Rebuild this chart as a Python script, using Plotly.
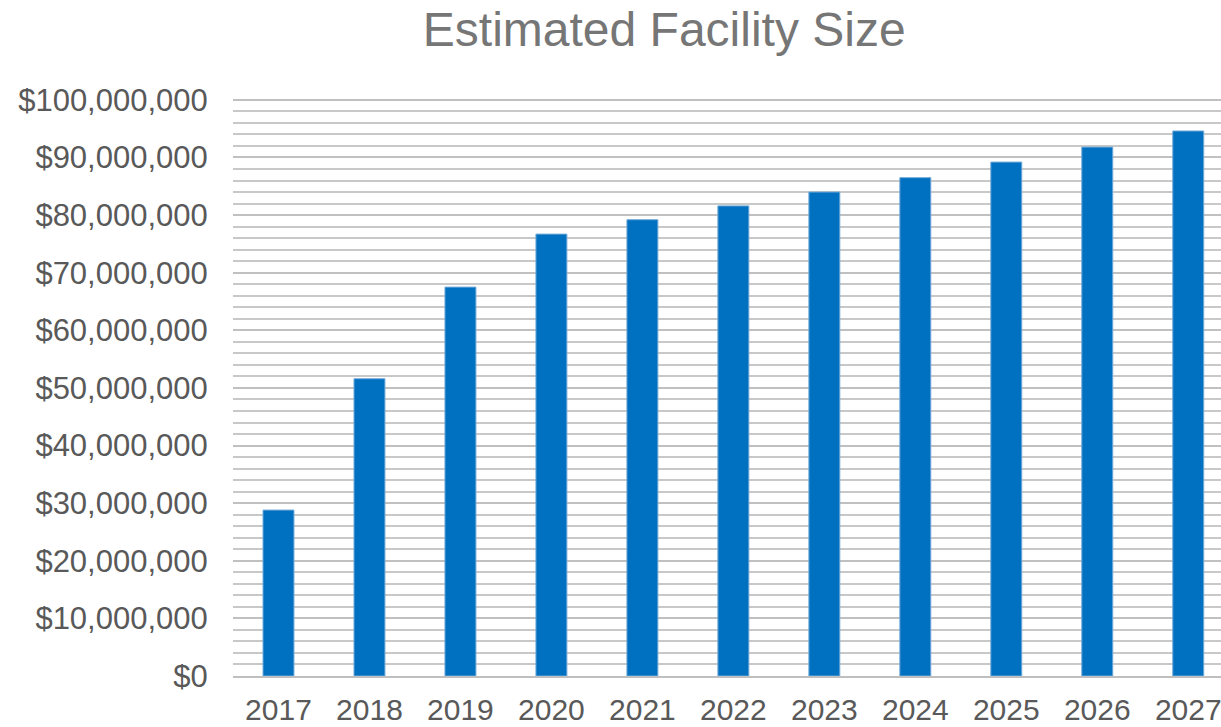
import plotly.graph_objects as go

years = ["2017", "2018", "2019", "2020", "2021", "2022", "2023", "2024", "2025", "2026", "2027"]
values = [28800000, 51600000, 67500000, 76700000, 79200000, 81600000, 84000000, 86500000, 89200000, 91800000, 94600000]

fig = go.Figure()
fig.add_trace(go.Bar(
    x=years, y=values,
    marker=dict(color="#0070C0", line=dict(color="#6fa8d8", width=1)),
    width=0.34,
))

fig.update_layout(
    width=1221, height=727,
    margin=dict(l=233, r=0, t=97, b=51, autoexpand=False),
    paper_bgcolor="white", plot_bgcolor="white",
    showlegend=False,
    bargap=0.66,
    title=dict(text="Estimated Facility Size", x=0.544, xanchor="center", y=0.96, yanchor="middle",
               font=dict(family="Liberation Sans, Arial", size=48, color="#767676")),
    font=dict(family="Liberation Sans, Arial", color="#595959"),
)
fig.update_xaxes(
    type="category", range=[-0.5, 10.36], automargin=False,
    showgrid=False, showline=True, linecolor="#bfbfbf", linewidth=2,
    ticks="outside", ticklen=6, tickcolor="rgba(0,0,0,0)",
    tickfont=dict(size=30, color="#595959"),
)
fig.update_yaxes(
    range=[0, 100500000], tick0=0, dtick=10000000, tickformat="$,.0f", automargin=False,
    showgrid=True, gridcolor="#c0c0c0", gridwidth=2,
    minor=dict(tick0=0, dtick=2000000, showgrid=True, gridcolor="#c8c8c8", gridwidth=2),
    zeroline=False, showline=False,
    ticks="outside", ticklen=18, tickcolor="rgba(0,0,0,0)",
    tickfont=dict(size=31, color="#595959"),
)

fig.write_html("out.html")
